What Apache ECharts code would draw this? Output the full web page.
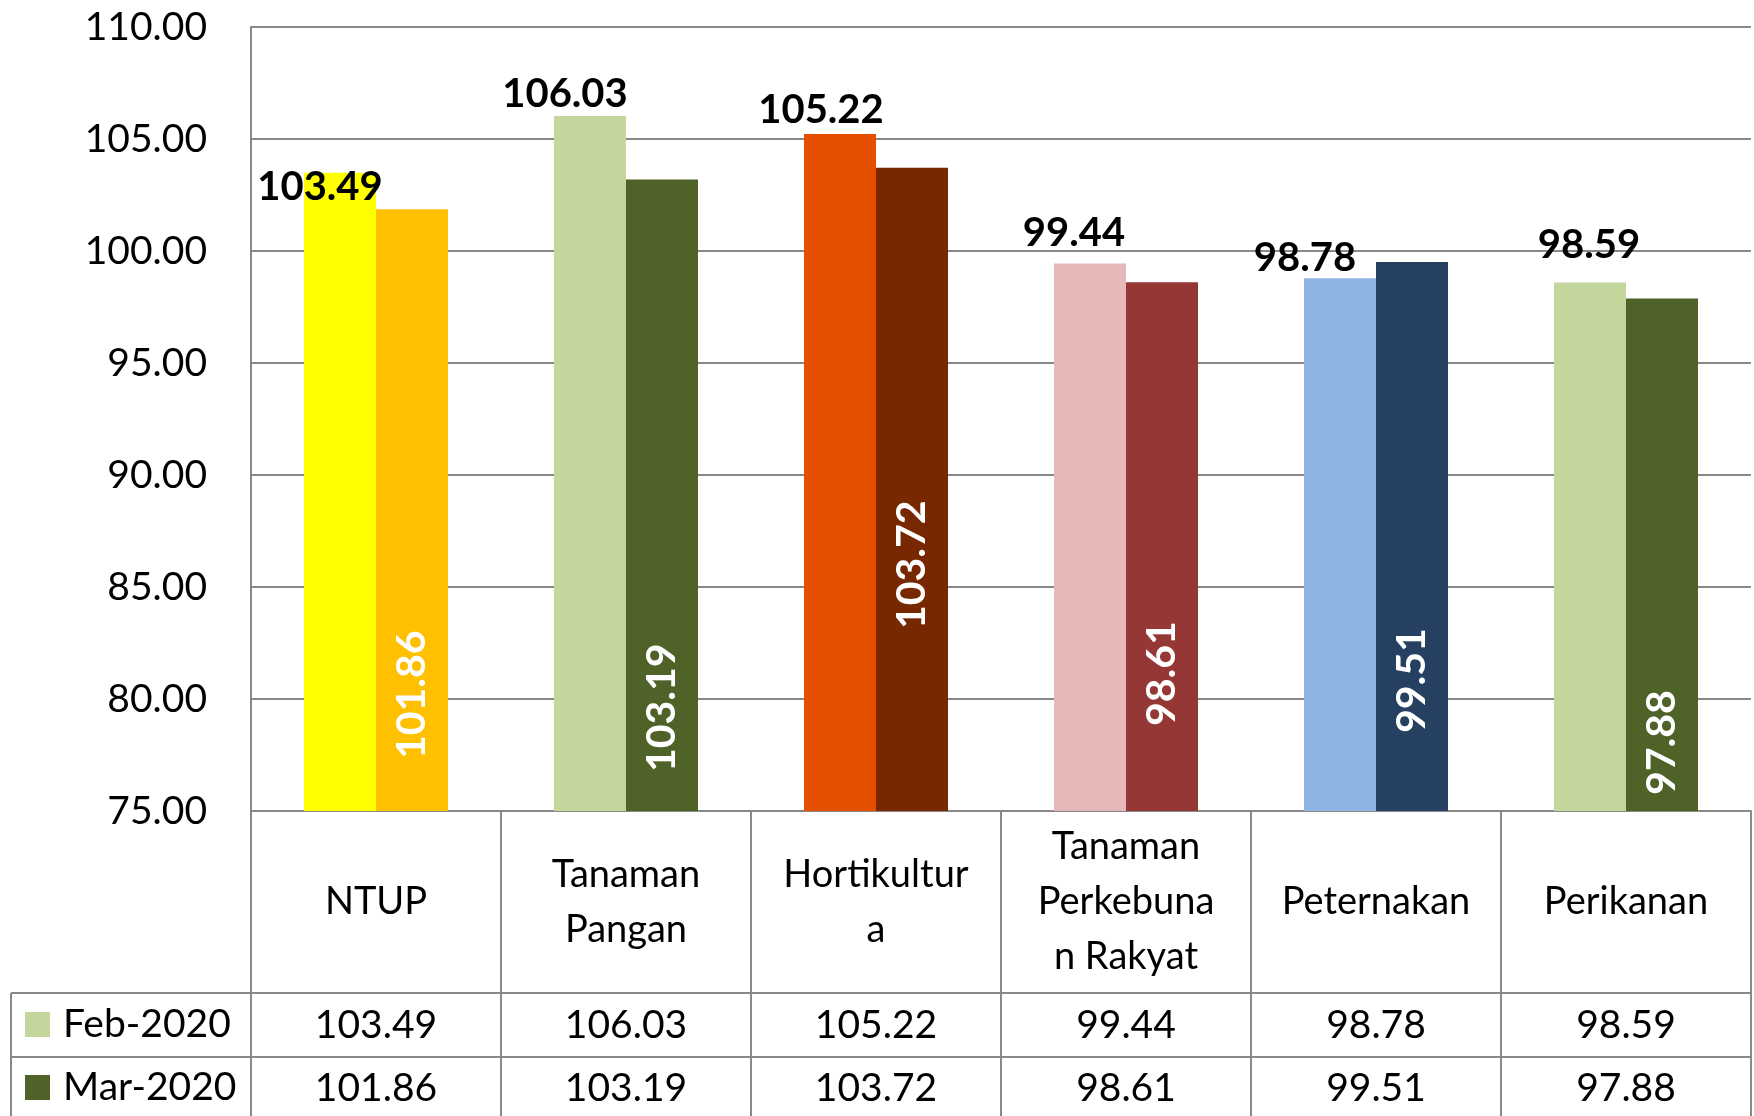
<!DOCTYPE html>
<html>
<head>
<meta charset="utf-8">
<script src="https://cdn.jsdelivr.net/npm/echarts@6/dist/echarts.min.js"></script>
<style>
  html, body { margin: 0; padding: 0; background: #fff; }
  #chart { width: 1754px; height: 1116px; }
</style>
</head>
<body>
<div id="chart"></div>
<script>
// kategori dan nilai NTUP per subsektor
const categories = ['NTUP', 'Tanaman\nPangan', 'Hortikultur\na', 'Tanaman\nPerkebuna\nn Rakyat', 'Peternakan', 'Perikanan'];
const seriesNames = ['Feb-2020', 'Mar-2020'];
const febValues = [103.49, 106.03, 105.22, 99.44, 98.78, 98.59];
const marValues = [101.86, 103.19, 103.72, 98.61, 99.51, 97.88];
const yTicks = { min: 75, max: 110, interval: 5 };

// warna tiap batang (mengikuti gambar asli)
const febColors = ['#FFFF00', '#C3D69B', '#E55000', '#E6B8B7', '#8DB4E2', '#C3D69B'];
const marColors = ['#FFC000', '#4F6228', '#772800', '#953735', '#254061', '#4F6228'];
// geseran label (dx, dy) dan jarak label putih dari sumbu
const febLabelShift = [[-20, 34], [-25, -2], [-19, -4], [-16, -10], [-35, 0], [-1, -17]];
const marLabelGap = [52, 39, 182, 85, 78, 16];

const FONT = 'Lato';
const GRID = { left: 251, right: 3, top: 27, bottom: 305 };
const W = 1754, H = 1116;
const axisY = H - GRID.bottom;          // 811
const row1 = 993, row2 = 1057;
const lineColor = '#898989';

const chart = echarts.init(document.getElementById('chart'));

function legendFor(name, top) {
  return {
    data: [name],
    orient: 'vertical',
    left: 25,
    top: top,
    padding: 0,
    itemWidth: 25,
    itemHeight: 25,
    icon: 'rect',
    textStyle: { fontFamily: FONT, fontSize: 39, color: '#000', padding: [0, 0, 0, 8] }
  };
}

const option = {
  animation: false,
  textStyle: { fontFamily: FONT },
  grid: GRID,
  legend: [legendFor(seriesNames[0], 1005), legendFor(seriesNames[1], 1068)],
  xAxis: [
    {
      type: 'category',
      data: categories,
      position: 'bottom',
      axisLine: { lineStyle: { color: lineColor, width: 2 } },
      axisTick: { show: true, length: H - axisY + 10, lineStyle: { color: lineColor, width: 2 } },
      axisLabel: {
        interval: 0, margin: 91, verticalAlign: 'middle',
        fontFamily: FONT, fontSize: 38, color: '#000', lineHeight: 55
      }
    },
    {
      type: 'category',
      data: febValues.map(v => v.toFixed(2)),
      position: 'bottom',
      axisLine: { show: false },
      axisTick: { show: false },
      axisLabel: { interval: 0, margin: 214, verticalAlign: 'middle', fontFamily: FONT, fontSize: 39, color: '#000' }
    },
    {
      type: 'category',
      data: marValues.map(v => v.toFixed(2)),
      position: 'bottom',
      axisLine: { show: false },
      axisTick: { show: false },
      axisLabel: { interval: 0, margin: 277, verticalAlign: 'middle', fontFamily: FONT, fontSize: 39, color: '#000' }
    }
  ],
  yAxis: {
    type: 'value',
    min: yTicks.min,
    max: yTicks.max,
    interval: yTicks.interval,
    axisLine: { show: true, lineStyle: { color: lineColor, width: 2 } },
    axisTick: { show: false },
    splitLine: { lineStyle: { color: lineColor, width: 2 } },
    axisLabel: {
      margin: 44, fontFamily: FONT, fontSize: 39, color: '#000',
      formatter: v => v.toFixed(2)
    }
  },
  series: [
    {
      name: seriesNames[0],
      type: 'bar',
      barGap: '0%',
      barCategoryGap: '42.4%',
      itemStyle: { color: '#C3D69B' },
      label: {
        show: true, position: 'top', distance: 0,
        fontFamily: FONT, fontSize: 40, fontWeight: 'bold', color: '#000', lineHeight: 40,
        formatter: p => p.value.toFixed(2)
      },
      data: febValues.map((v, i) => ({
        value: v,
        itemStyle: { color: febColors[i] },
        label: { offset: febLabelShift[i] }
      }))
    },
    {
      name: seriesNames[1],
      type: 'bar',
      barGap: '0%',
      barCategoryGap: '42.4%',
      itemStyle: { color: '#4F6228' },
      label: {
        show: true, position: 'insideBottom', rotate: 90, align: 'left', verticalAlign: 'middle',
        fontFamily: FONT, fontSize: 41, fontWeight: 'bold', color: '#fff',
        formatter: p => p.value.toFixed(2)
      },
      data: marValues.map((v, i) => ({
        value: v,
        itemStyle: { color: marColors[i] },
        label: { distance: marLabelGap[i] }
      }))
    }
  ],
  graphic: [
    // garis tabel data di bawah grafik
    { type: 'line', shape: { x1: 11, y1: row1, x2: W - GRID.right, y2: row1 }, style: { stroke: lineColor, lineWidth: 2 } },
    { type: 'line', shape: { x1: 11, y1: row2, x2: W - GRID.right, y2: row2 }, style: { stroke: lineColor, lineWidth: 2 } },
    { type: 'line', shape: { x1: 11, y1: row1, x2: 11, y2: H }, style: { stroke: lineColor, lineWidth: 2 } }
  ]
};

chart.setOption(option);
</script>
</body>
</html>
